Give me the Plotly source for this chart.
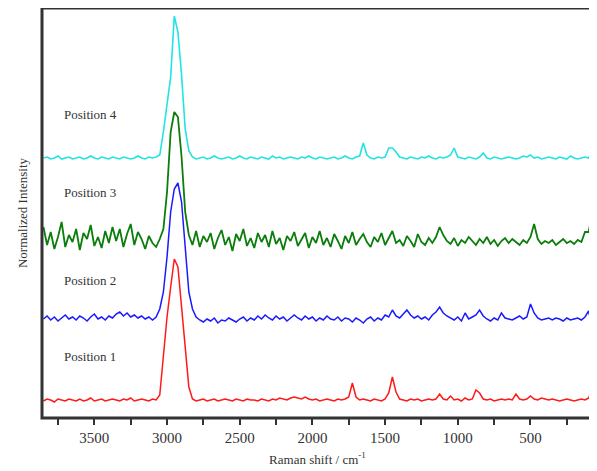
import plotly.graph_objects as go

# wavenumber grid (cm-1), 3850 -> 75 in 25 cm-1 steps
raman_shift = list(range(3850, 74, -25))

# stacked spectra, intensity in a.u. (already offset for display)
position_1 = [
    16, 18, 17, 15, 18, 17, 16, 18, 17, 16,
    18, 16, 17, 19, 16, 17, 18, 16, 17, 18,
    17, 16, 18, 17, 19, 16, 17, 18, 17, 16,
    18, 17, 22, 60, 100, 130, 158, 150, 108, 65,
    30, 18, 16, 17, 18, 16, 17, 18, 16, 17,
    18, 17, 16, 18, 17, 16, 18, 17, 17, 16,
    18, 17, 16, 18, 17, 19, 18, 17, 19, 20,
    19, 18, 20, 18, 17, 18, 16, 17, 18, 17,
    16, 18, 17, 18, 20, 34, 20, 17, 18, 17,
    16, 18, 17, 16, 18, 24, 40, 25, 18, 17,
    16, 18, 17, 18, 16, 17, 18, 17, 18, 23,
    18, 17, 21, 17, 18, 16, 19, 17, 18, 27,
    24, 18, 17, 18, 16, 17, 18, 17, 18, 17,
    23, 18, 17, 18, 21, 18, 17, 19, 18, 17,
    18, 17, 16, 17, 18, 17, 16, 17, 18, 17,
    19, 28,
]
position_2 = [
    98, 101, 97, 100, 96, 99, 102, 98, 100, 97,
    101, 99, 96, 100, 103, 98, 100, 97, 101, 99,
    103, 105, 101, 104, 100, 102, 99, 101, 98, 100,
    97, 100, 108, 125, 160, 205, 228, 234, 215, 170,
    125, 108, 100, 97, 95, 98, 96, 99, 94, 97,
    96, 99, 97, 95, 98, 100, 96, 99, 97, 101,
    98, 102, 99, 97, 101, 98, 100, 96, 99, 102,
    99, 97, 101, 98, 100, 96, 99, 97, 101, 98,
    97, 100, 96, 99, 98, 95, 99, 97, 94, 98,
    100, 96, 99, 97, 102, 100, 107, 101, 99, 103,
    107, 102, 99, 101, 98, 100, 97, 102, 105, 110,
    104, 101, 99, 97, 100, 96, 104, 98, 100, 102,
    107, 101, 98, 96, 99, 97, 104, 99, 98, 97,
    99, 101, 98, 100, 113, 104, 99, 97, 98, 99,
    97, 99, 98, 96, 99, 97, 98, 99, 97, 100,
    106, 88,
]
position_3 = [
    190, 172, 185, 168, 180, 195, 170, 182, 175, 188,
    167, 184, 178, 192, 171, 180, 169, 186, 174, 190,
    176, 188, 170, 183, 193, 172, 185, 178, 168, 181,
    174, 170, 178, 188, 225, 285, 305, 300, 260, 205,
    182, 172, 186, 170, 181, 175, 184, 168, 179, 187,
    172, 180, 166, 183, 176, 188, 171, 179, 169, 184,
    175, 182, 170, 186, 173, 179, 167, 181, 176, 185,
    171, 178, 184, 169, 180, 174, 186, 172, 179, 170,
    183, 176, 168, 181, 174, 185, 172, 178, 183, 175,
    170, 180, 175, 184, 172, 179, 186, 174, 177, 171,
    181, 176, 170, 183, 175, 172, 179, 174, 180, 190,
    182, 176, 173, 179, 171, 177, 174, 180, 176, 172,
    178, 174, 180, 173, 177, 171, 176, 179, 174, 178,
    175, 172, 177, 174, 180, 193, 178, 173, 176, 174,
    177, 172, 175, 178, 174, 176, 173, 177, 175, 185,
    185, 204,
]
position_4 = [
    259, 260, 258, 259, 261, 258, 259, 260, 258, 259,
    260, 258, 259, 261, 259, 258, 260, 259, 258, 260,
    259, 258, 260, 259, 258, 259, 261, 259, 258, 260,
    259, 260, 262, 285, 315, 340, 401, 385, 342, 288,
    266, 260, 258, 259, 260, 258, 259, 261, 259, 258,
    259, 260, 258, 259, 261, 259, 258, 260, 259, 258,
    260, 259, 258, 261, 259, 260, 258, 259, 260, 259,
    258, 260, 259, 261, 259, 258, 260, 259, 258, 259,
    260, 258, 259, 261, 259, 258, 260, 261, 274, 262,
    259, 258, 260, 259, 260, 269, 269, 265, 260, 259,
    258, 260, 259, 258, 260, 259, 261, 259, 258, 260,
    259, 260, 262, 269, 260, 259, 258, 260, 259, 258,
    260, 264, 259, 258, 260, 259, 258, 259, 260, 259,
    258, 259, 261, 260, 262, 259, 260, 258, 259, 260,
    259, 258, 260, 259, 258, 261, 259, 258, 259, 260,
    259, 267,
]

names = ["Position 1", "Position 2", "Position 3", "Position 4"]
spectra = [position_1, position_2, position_3, position_4]
colors = ["#ff1a1a", "#1a1aff", "#0a7d0a", "#22e3e3"]
widths = [1.5, 1.5, 1.8, 1.6]
label_y = [61, 137, 225, 303]

# ticks every 250 cm-1, labels every 500
tick_vals = [3750, 3500, 3250, 3000, 2750, 2500, 2250, 2000, 1750, 1500, 1250, 1000, 750, 500, 250]
tick_text = ["", "3500", "", "3000", "", "2500", "", "2000", "", "1500", "", "1000", "", "500", ""]

fig = go.Figure()
for name, y, c, w in zip(names, spectra, colors, widths):
    fig.add_trace(go.Scatter(x=raman_shift, y=y, mode="lines", name=name,
                             line=dict(color=c, width=w)))

for name, ly in zip(names, label_y):
    fig.add_annotation(x=3722, y=ly, text=name, showarrow=False,
                       xanchor="left", yanchor="middle",
                       font=dict(family="Liberation Serif", size=13, color="#333333"))

# frame around the plot area
fig.add_shape(type="rect", xref="paper", yref="paper", x0=0, x1=1, y0=0, y1=1,
              line=dict(color="#333333", width=3), fillcolor="rgba(0,0,0,0)", layer="above")

# the page body adds an 8 px margin, so the figure is a bit smaller than the window
fig.update_layout(
    width=589, height=463,
    margin=dict(l=34, r=4, t=0, b=53),
    plot_bgcolor="white", paper_bgcolor="white",
    showlegend=False,
    font=dict(family="Liberation Serif", color="#333333"),
    xaxis=dict(range=[3860, 70], tickmode="array", tickvals=tick_vals, ticktext=tick_text,
               ticks="outside", ticklen=6, tickwidth=2, tickcolor="#333333",
               tickfont=dict(size=15), automargin=False,
               showgrid=False, zeroline=False,
               title=dict(text="Raman shift / cm<sup>-1</sup>", font=dict(size=13), standoff=9)),
    yaxis=dict(range=[-1, 409], showticklabels=False, ticks="", automargin=False,
               showgrid=False, zeroline=False,
               title=dict(text="Normalized Intensity", font=dict(size=13), standoff=10)),
)

fig.write_html("out.html")
